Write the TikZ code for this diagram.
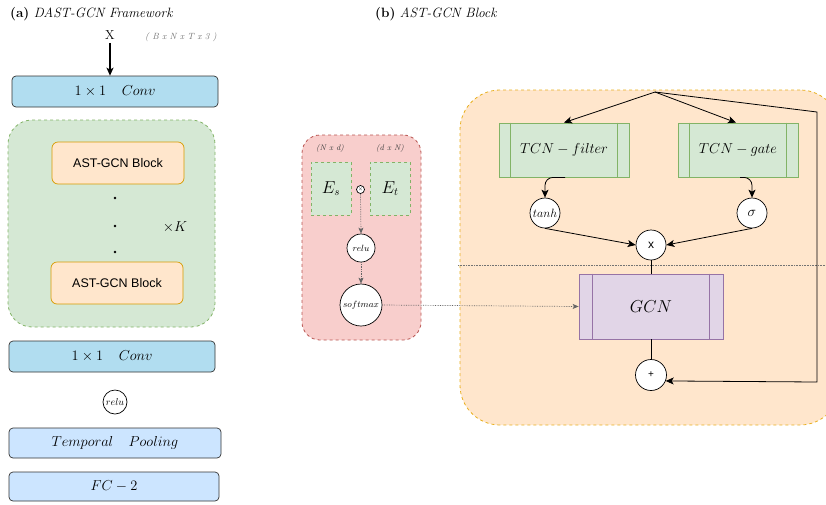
\documentclass[tikz,border=0pt]{standalone}
\usepackage{fontspec}
\newfontfamily\helv{Liberation Sans}
\usetikzlibrary{arrows.meta,calc}
\definecolor{convblue}{HTML}{B1DDF0}
\definecolor{lblue}{HTML}{CCE5FF}
\definecolor{gfill}{HTML}{D5E8D4}
\definecolor{gline}{HTML}{82B366}
\definecolor{ofill}{HTML}{FFE6CC}
\definecolor{oline}{HTML}{D79B00}
\definecolor{rfill}{HTML}{F8CECC}
\definecolor{rline}{HTML}{B85450}
\definecolor{pfill}{HTML}{E1D5E7}
\definecolor{pline}{HTML}{9673A6}
\definecolor{goldline}{HTML}{E8B020}
\tikzset{
  x=1pt,y=-1pt,
  convbox/.style={draw=black!80,fill=convblue,rounded corners=4pt,minimum width=206pt,minimum height=31pt,font=\fontsize{15.5}{17}\selectfont,line width=0.7pt},
  poolbox/.style={convbox,fill=lblue},
  blockbox/.style={draw=oline,fill=ofill,rounded corners=6pt,minimum width=132pt,minimum height=42pt,font=\helv\fontsize{12.5}{14}\selectfont,line width=0.7pt},
  circ/.style={circle,draw=black,fill=white,inner sep=0pt,line width=0.7pt},
  procbox/.style={draw=gline,fill=gfill,line width=0.8pt,font=\fontsize{15}{17}\selectfont},
  arr/.style={-{Stealth[length=8pt,width=7pt,inset=2pt]},line width=0.8pt},
  darr/.style={-{Stealth[length=6pt,width=5pt,inset=1.5pt]},densely dotted,draw=black!60,line width=0.7pt},
}
\begin{document}
\begin{tikzpicture}
\useasboundingbox (0,0) rectangle (826,504);
% ---------- (a) ----------
\node[anchor=west,font=\fontsize{13.5}{15}\selectfont,inner sep=0pt] (ta) at (10,14) {\textbf{(a)} \textit{DAST-GCN Framework}};
\node[font=\fontsize{13}{14}\selectfont] (X) at (110,35) {X};
\node[anchor=west,font=\itshape\fontsize{9}{10}\selectfont,text=black!55,inner sep=0pt] (dims) at (145,37) {( B x N x T x 3 )};
\node[convbox] (conv1) at (115,91.5) {$1\times 1\quad Conv$};
\draw[-{Stealth[length=8pt,width=7pt,inset=2pt]},line width=1.3pt] (X.south) -- (X.south |- conv1.north);
\node[draw=gline,fill=gfill,dashed,rounded corners=24pt,minimum width=207pt,minimum height=207pt,line width=0.8pt] (rep) at (111.5,223.5) {};
\node[blockbox] (b1) at (118,163) {AST-GCN Block};
\node[blockbox] (b2) at (117,283) {AST-GCN Block};
\foreach \yy [count=\i] in {198,226,252} \fill (115,\yy) circle (1.3pt) coordinate (dot\i);
\node[font=\fontsize{15}{17}\selectfont] (K) at (175,227) {$\times K$};
\node[convbox] (conv2) at (112,356.5) {$1\times 1\quad Conv$};
\node[circ,minimum size=24pt,font=\fontsize{10}{11}\selectfont] (relu1) at (115,402) {$relu$};
\node[poolbox,minimum width=212pt,minimum height=30pt] (pool) at (115,443) {$Temporal\quad Pooling$};
\node[poolbox,minimum width=210pt,minimum height=29pt] (fc) at (114,486.5) {$FC-2$};
% ---------- (b) ----------
\node[anchor=west,font=\fontsize{13.5}{15}\selectfont,inner sep=0pt] (tb) at (375,14) {\textbf{(b)} \textit{AST-GCN Block}};
% red box
\node[draw=rline,fill=rfill,dashed,rounded corners=18pt,minimum width=119pt,minimum height=205pt,line width=0.8pt] (red) at (361.5,237.5) {};
\node[font=\itshape\fontsize{8}{9}\selectfont,text=black!75] (nd) at (330,148) {(N x d)};
\node[font=\itshape\fontsize{8}{9}\selectfont,text=black!75] (dn) at (390,148) {(d x N)};
\node[draw=gline,fill=gfill,dashed,minimum width=40pt,minimum height=53pt,line width=0.8pt,font=\fontsize{16}{18}\selectfont] (Es) at (331,188.5) {$E_s$};
\node[draw=gline,fill=gfill,dashed,minimum width=40pt,minimum height=53pt,line width=0.8pt,font=\fontsize{16}{18}\selectfont] (Et) at (390,188.5) {$E_t$};
\node[circ,minimum size=8pt,font=\fontsize{5}{5}\selectfont] (odot) at (360.5,189.5) {$\times$};
\node[circ,minimum size=28pt,font=\fontsize{9}{10}\selectfont] (relu2) at (361,248) {$relu$};
\node[circ,minimum size=42pt,font=\fontsize{9}{10}\selectfont] (soft) at (361,305) {$softmax$};
\draw[darr] (odot.south) -- (relu2.north);
\draw[darr] (relu2.south) -- (soft.north);
% orange block
\node[draw=goldline,fill=ofill,dashed,rounded corners=40pt,minimum width=380pt,minimum height=335pt,line width=0.8pt] (ob) at (650,257.5) {};
\draw[densely dotted,draw=black!55,line width=0.6pt] (458,265) -- (826,265);
\coordinate (top) at (655,92);
\coordinate (rt) at (817,112);
\coordinate (rb) at (817,382);
\node[procbox,minimum width=130pt,minimum height=54pt] (tf) at (564,150) {$TCN-filter$};
\node[procbox,minimum width=120pt,minimum height=54pt] (tg) at (738,150) {$TCN-gate$};
\foreach \n/\d in {tf/12,tg/12}{
  \draw[gline,line width=0.8pt] ([xshift=\d pt]\n.north west) -- ([xshift=\d pt]\n.south west);
  \draw[gline,line width=0.8pt] ([xshift=-\d pt]\n.north east) -- ([xshift=-\d pt]\n.south east);
}
\node[draw=pline,fill=pfill,line width=0.8pt,minimum width=144pt,minimum height=65pt,font=\fontsize{16.5}{18}\selectfont] (gcn) at (651,306.5) {$GCN$};
\draw[pline,line width=0.8pt] ([xshift=14pt]gcn.north west) -- ([xshift=14pt]gcn.south west);
\draw[pline,line width=0.8pt] ([xshift=-14pt]gcn.north east) -- ([xshift=-14pt]gcn.south east);
\node[circ,minimum size=30pt,font=\fontsize{12}{14}\selectfont] (tanh) at (545,213) {$tanh$};
\node[circ,minimum size=30pt,font=\fontsize{14}{16}\selectfont] (sig) at (752,213) {$\sigma$};
\node[circ,minimum size=30pt,font=\helv\fontsize{12}{14}\selectfont] (mul) at (651,245) {x};
\node[circ,minimum size=31pt,font=\helv\fontsize{10}{12}\selectfont] (plus) at (651,375) {+};
\draw[arr] (top) -- (tf.north);
\draw[arr] (top) -- ([xshift=-2pt]tg.north);
\draw[arr,rounded corners=8pt] ([xshift=1pt]tf.south) -| (tanh.north);
\draw[arr,rounded corners=8pt] ([xshift=2pt]tg.south) -| (sig.north);
\draw[arr] (tanh.south) -- (mul.west);
\draw[arr] (sig.south) -- (mul.east);
\draw[line width=0.8pt] (mul.south) -- (gcn.north);
\draw[line width=0.8pt] (gcn.south) -- (plus.north);
\draw[arr] (top) -- (rt) -- (rb) -- (plus.-22);
\draw[darr] (soft.east) -- (gcn.west);
\end{tikzpicture}
\end{document}
